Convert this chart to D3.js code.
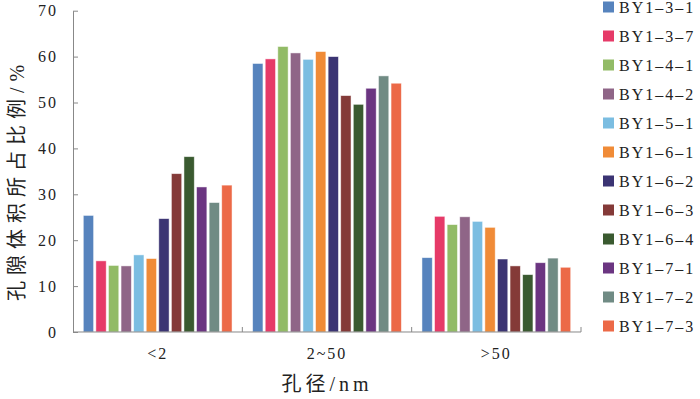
<!DOCTYPE html>
<html>
<head>
<meta charset="utf-8">
<script src="https://cdn.jsdelivr.net/npm/d3@7"></script>
<style>
  body { margin: 0; background: #fff; }
  svg { display: block; }
  text { font-family: "Liberation Serif", "Noto Sans CJK SC", serif; fill: #222; }
  .cjk { font-family: "Liberation Serif", "Noto Sans CJK SC", serif; }
</style>
</head>
<body>
<svg id="chart" width="700" height="399"></svg>
<script>
const categories = ["<2", "2~50", ">50"];
const series = [
  "BY1–3–1", "BY1–3–7", "BY1–4–1", "BY1–4–2", "BY1–5–1", "BY1–6–1",
  "BY1–6–2", "BY1–6–3", "BY1–6–4", "BY1–7–1", "BY1–7–2", "BY1–7–3",
];
const colors = [
  "#5683bd", "#e63a68", "#92bb66", "#8f6587", "#7bbde1", "#f08b37",
  "#3b3473", "#843a38", "#3a5a30", "#6b3581", "#708b84", "#ec6947",
];
// 每个孔径区间的值（%），按系列顺序
const valuesLt2 = [25.4, 15.5, 14.5, 14.4, 16.8, 16.0, 24.7, 34.5, 38.2, 31.6, 28.2, 32.0];
const values2to50 = [58.5, 59.5, 62.2, 60.8, 59.4, 61.1, 60.0, 51.5, 49.6, 53.1, 55.8, 54.2];
const valuesGt50 = [16.2, 25.2, 23.4, 25.1, 24.1, 22.8, 15.9, 14.4, 12.5, 15.1, 16.1, 14.1];
const yTicks = [0, 10, 20, 30, 40, 50, 60, 70];

const data = categories.map((c, i) => ({
  cat: c,
  values: [valuesLt2, values2to50, valuesGt50][i],
}));

const margens = { left: 73, right: 119, top: 10.7, bottom: 67 };
const svg = d3.select("#chart");
const width = 700 - margens.left - margens.right;
const height = 399 - margens.top - margens.bottom;

const x0 = d3.scaleBand().domain(categories).range([0, width]).padding(0);
const x1 = d3
  .scaleBand()
  .domain(series)
  .range([10.3, x0.bandwidth() - 10.3])
  .paddingInner(0.18)
  .paddingOuter(0);
const y = d3.scaleLinear().domain([0, 70]).range([height, 0]);

const g = svg
  .append("g")
  .attr("transform", `translate(${margens.left},${margens.top})`);

// 柱
const groups = g
  .selectAll(".grp")
  .data(data)
  .enter()
  .append("g")
  .attr("class", "grp")
  .attr("transform", (d) => `translate(${x0(d.cat)},0)`);

groups
  .selectAll("rect")
  .data((d) => d.values.map((v, i) => ({ s: series[i], v, i })))
  .enter()
  .append("rect")
  .attr("x", (d) => x1(d.s))
  .attr("y", (d) => y(d.v))
  .attr("width", x1.bandwidth())
  .attr("height", (d) => height - y(d.v))
  .attr("fill", (d) => colors[d.i])
  .attr("stroke", "#fff")
  .attr("stroke-opacity", 0.6)
  .attr("stroke-width", 0.8);

// Y 轴（刻度朝内）
const yAxis = g
  .append("g")
  .call(
    d3.axisLeft(y).tickValues(yTicks).tickSizeInner(-5).tickSizeOuter(0).tickPadding(15),
  );
yAxis.selectAll("path, line").attr("stroke", "#888");
yAxis
  .selectAll("text")
  .attr("font-size", 16)
  .attr("letter-spacing", 2)
  .attr("fill", "#222");

// X 轴线和分隔刻度
g.append("line")
  .attr("x1", 0)
  .attr("x2", width)
  .attr("y1", height)
  .attr("y2", height)
  .attr("stroke", "#888");
g.selectAll(".sep")
  .data(categories)
  .enter()
  .append("line")
  .attr("class", "sep")
  .attr("x1", (d) => x0(d) + x0.bandwidth())
  .attr("x2", (d) => x0(d) + x0.bandwidth())
  .attr("y1", height)
  .attr("y2", height - 5)
  .attr("stroke", "#888");

g.selectAll(".catlbl")
  .data(categories)
  .enter()
  .append("text")
  .attr("class", "catlbl")
  .attr("x", (d) => x0(d) + x0.bandwidth() / 2)
  .attr("y", height + 27)
  .attr("text-anchor", "middle")
  .attr("font-size", 16)
  .attr("letter-spacing", 2)
  .text((d) => d);

// 轴标题
svg
  .append("text")
  .attr("class", "cjk")
  .attr("x", margens.left + width / 2)
  .attr("y", 391)
  .attr("text-anchor", "middle")
  .attr("font-size", 20)
  .attr("letter-spacing", 4)
  .text("孔径/nm");

svg
  .append("text")
  .attr("class", "cjk")
  .attr("transform", "translate(24,180) rotate(-90)")
  .attr("text-anchor", "middle")
  .attr("font-size", 20)
  .attr("letter-spacing", 6)
  .text("孔隙体积所占比例/%");

// 图例
const legend = svg.append("g").attr("transform", "translate(603,7)");
series.forEach((s, i) => {
  legend
    .append("rect")
    .attr("x", 0)
    .attr("y", i * 29 - 5.5)
    .attr("width", 11)
    .attr("height", 11)
    .attr("fill", colors[i]);
  legend
    .append("text")
    .attr("x", 16)
    .attr("y", i * 29 + 5.5)
    .attr("font-size", 16)
    .attr("letter-spacing", 2)
    .text(s);
});
</script>
</body>
</html>
